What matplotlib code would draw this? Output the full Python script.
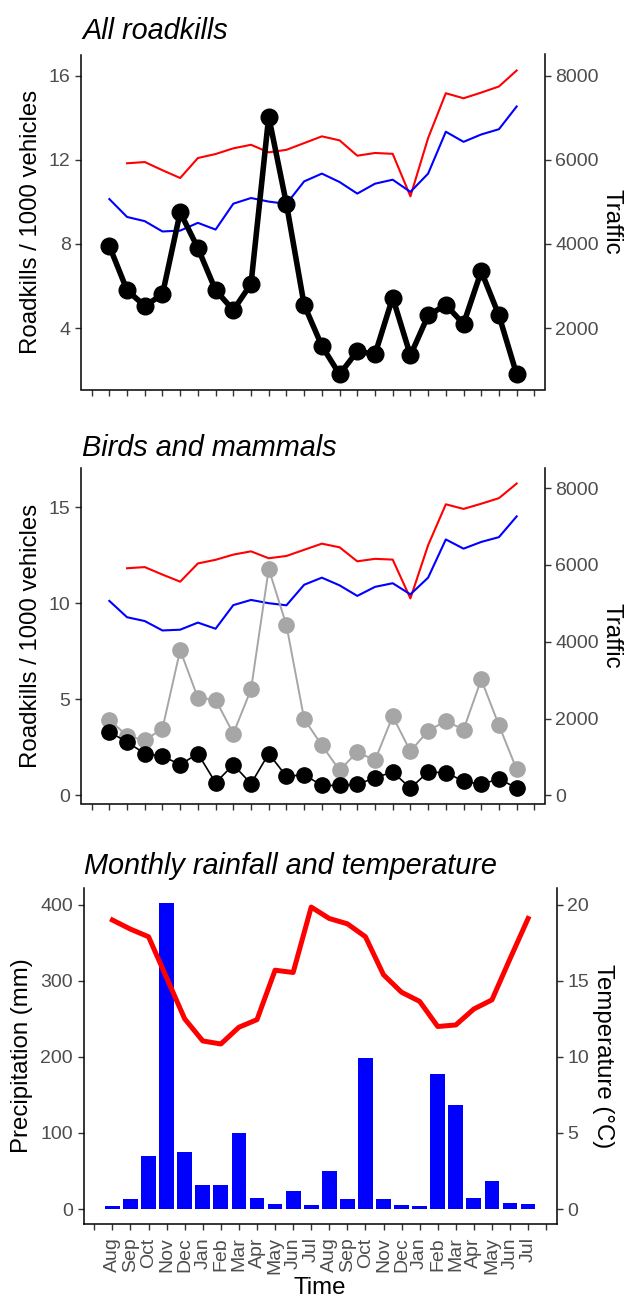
import matplotlib
matplotlib.use("Agg")
import matplotlib.pyplot as plt
import numpy as np

plt.rcParams['font.family'] = ['Liberation Sans', 'DejaVu Sans']

# ---------------- data ----------------
months = ['Aug', 'Sep', 'Oct', 'Nov', 'Dec', 'Jan', 'Feb', 'Mar', 'Apr', 'May', 'Jun', 'Jul',
          'Aug', 'Sep', 'Oct', 'Nov', 'Dec', 'Jan', 'Feb', 'Mar', 'Apr', 'May', 'Jun', 'Jul']
x_pos = list(range(1, 25))

# Top panel: all roadkills per 1000 vehicles
all_roadkills = [7.9, 5.8, 5.05, 5.6, 9.5, 7.8, 5.8, 4.85, 6.1, 14.05, 9.9, 5.1,
                 3.15, 1.8, 2.9, 2.75, 5.45, 2.7, 4.6, 5.1, 4.2, 6.7, 4.6, 1.8]

# Traffic (vehicles) - red series starts in Sep
traffic_red = [None, 5915, 5945, 5750, 5565, 6040, 6135, 6270, 6355, 6175, 6235, 6395,
               6555, 6460, 6095, 6160, 6140, 5130, 6515, 7580, 7460, 7595, 7740, 8120]
traffic_blue = [5065, 4640, 4540, 4295, 4315, 4500, 4340, 4955, 5090, 5005, 4950, 5485,
                5670, 5470, 5195, 5430, 5525, 5235, 5670, 6665, 6425, 6600, 6725, 7265]

# Middle panel: birds and mammals
birds = [3.95, 3.10, 2.87, 3.48, 7.57, 5.08, 4.99, 3.22, 5.52, 11.8, 8.86, 3.98,
         2.61, 1.31, 2.26, 1.83, 4.12, 2.30, 3.36, 3.88, 3.43, 6.04, 3.65, 1.36]
mammals = [3.31, 2.78, 2.18, 2.05, 1.60, 2.18, 0.66, 1.60, 0.61, 2.18, 0.99, 1.08,
           0.52, 0.52, 0.57, 0.92, 1.22, 0.38, 1.22, 1.18, 0.75, 0.57, 0.87, 0.38]

# Bottom panel: rainfall (mm) and temperature (deg C)
precipitation = [3.5, 13, 70, 402, 75, 31, 31, 100, 14.5, 6, 24, 5,
                 50, 13, 198, 13, 5, 3.5, 177, 137, 14, 37, 7.5, 6]
temperature = [19.0, 18.4, 17.9, 15.2, 12.5, 11.05, 10.85, 11.95, 12.45, 15.7, 15.55, 19.85,
               19.1, 18.75, 17.9, 15.4, 14.25, 13.65, 12.0, 12.1, 13.15, 13.75, 16.45, 19.1]

# ---------------- styling ----------------
W, H = 625, 1299
fig = plt.figure(figsize=(W / 100, H / 100), dpi=100)

TICK_COL = '#4D4D4D'
TICK_FS = 14
LAB_FS = 17.3
TITLE_FS = 20.8


def box(left, right, top, bottom):
    return [left / W, 1 - bottom / H, (right - left) / W, (bottom - top) / H]


def style_axes(ax, ax2, xlabels=False):
    for a in (ax, ax2):
        a.spines['top'].set_visible(False)
        a.set_xlim(-0.6, 25.6)
        a.tick_params(axis='both', length=4.5, width=1.0, color='#333333',
                      labelcolor=TICK_COL, labelsize=TICK_FS, pad=3)
    ax.spines['right'].set_visible(False)
    ax2.spines['left'].set_visible(False)
    ax2.spines['bottom'].set_visible(False)
    for s in ('left', 'bottom'):
        ax.spines[s].set_linewidth(1.1)
    ax2.spines['right'].set_linewidth(1.1)
    ax.set_xticks(range(0, 26))
    if xlabels:
        ax.set_xticklabels([''] + months + [''], rotation=90, ha='center', va='top')
    else:
        ax.set_xticklabels([])


traffic_red_arr = np.array([np.nan if v is None else v for v in traffic_red], dtype=float)
traffic_blue_arr = np.array(traffic_blue, dtype=float)

# ---------- Top panel ----------
ax1 = fig.add_axes(box(81, 545, 54.5, 389.5))
ax1r = ax1.twinx()
ax1r.plot(x_pos, traffic_red_arr, color='#FF0000', lw=1.5)
ax1r.plot(x_pos, traffic_blue_arr, color='#0000FF', lw=1.5)
ax1.plot(x_pos, all_roadkills, color='black', lw=4.0, marker='o', ms=12,
         solid_joinstyle='round')
ax1.set_zorder(ax1r.get_zorder() + 1)
ax1.patch.set_visible(False)
ax1.set_ylim(1.08, 17.0)
ax1r.set_ylim(1.08 * 500, 17.0 * 500)
ax1.set_yticks([4, 8, 12, 16])
ax1r.set_yticks([2000, 4000, 6000, 8000])
style_axes(ax1, ax1r)

# ---------- Middle panel ----------
ax2 = fig.add_axes(box(81, 545, 468, 803.5))
ax2r = ax2.twinx()
ax2r.plot(x_pos, traffic_red_arr, color='#FF0000', lw=1.5)
ax2r.plot(x_pos, traffic_blue_arr, color='#0000FF', lw=1.5)
ax2.plot(x_pos, birds, color='#A6A6A6', lw=1.4, marker='o', ms=11)
ax2.plot(x_pos, mammals, color='black', lw=1.2, marker='o', ms=11)
ax2.set_zorder(ax2r.get_zorder() + 1)
ax2.patch.set_visible(False)
ax2.set_ylim(-0.42, 17.05)
ax2r.set_ylim(-0.42 * 500, 17.05 * 500)
ax2.set_yticks([0, 5, 10, 15])
ax2r.set_yticks([0, 2000, 4000, 6000, 8000])
style_axes(ax2, ax2r)

# ---------- Bottom panel ----------
ax3 = fig.add_axes(box(83.5, 557, 888, 1224.3))
ax3r = ax3.twinx()
ax3.bar(x_pos, precipitation, width=0.82, color='#0000FF')
ax3r.plot(x_pos, temperature, color='#FF0000', lw=3.6, solid_joinstyle='round')
ax3.set_ylim(-20.1, 422.1)
ax3r.set_ylim(-20.1 / 20, 422.1 / 20)
ax3.set_yticks([0, 100, 200, 300, 400])
ax3r.set_yticks([0, 5, 10, 15, 20])
style_axes(ax3, ax3r, xlabels=True)
ax3.tick_params(axis='x', pad=5)

# ---------- Titles & axis labels ----------
def ftext(x, y, s, **kw):
    fig.text(x / W, 1 - y / H, s, **kw)

ftext(82, 39, 'All roadkills', fontsize=TITLE_FS, style='italic', ha='left', va='baseline')
ftext(82, 456, 'Birds and mammals', fontsize=TITLE_FS, style='italic', ha='left', va='baseline')
ftext(84, 874, 'Monthly rainfall and temperature', fontsize=TITLE_FS, style='italic',
      ha='left', va='baseline')

ftext(31, 222, 'Roadkills / 1000 vehicles', fontsize=LAB_FS, rotation=90, ha='center', va='center')
ftext(31, 636, 'Roadkills / 1000 vehicles', fontsize=LAB_FS, rotation=90, ha='center', va='center')
ftext(22, 1056, 'Precipitation (mm)', fontsize=LAB_FS, rotation=90, ha='center', va='center')

ftext(612, 222, 'Traffic', fontsize=LAB_FS, rotation=270, ha='center', va='center')
ftext(612, 636, 'Traffic', fontsize=LAB_FS, rotation=270, ha='center', va='center')
ftext(603, 1056, 'Temperature (°C)', fontsize=LAB_FS, rotation=270, ha='center', va='center')

ftext(320, 1288, 'Time', fontsize=LAB_FS, ha='center', va='center')

fig.savefig('out.png', dpi=100)
